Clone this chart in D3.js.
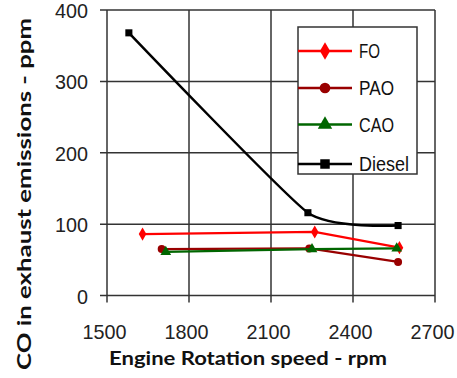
<!DOCTYPE html>
<meta charset="utf-8">
<body style="margin:0;background-color:white;">
<svg width="457" height="378"></svg>
<script src="https://d3js.org/d3.v7.min.js"></script>
<script>

// data
var xTicks = [1500, 1800, 2100, 2400, 2700];
var yTicks = [0, 100, 200, 300, 400];

var foRpm = [1630, 2260, 2570];
var foCO = [86, 89, 67];
var paoRpm = [1700, 2240, 2565];
var paoCO = [65, 66, 47];
var caoRpm = [1715, 2250, 2560];
var caoCO = [61, 65, 66];
var dieselRpm = [1580, 2235, 2565];
var dieselCO = [368, 116, 98];

var seriesNames = ["FO", "PAO", "CAO", "Diesel"];

var svg = d3.select("svg");

var x = d3.scaleLinear().domain([1500, 2700]).range([107, 435]);
var y = d3.scaleLinear().domain([0, 400]).range([295.5, 10]);

var gridColor = '#333';

// grid lines
var grid = svg.append('g');
grid.selectAll('line.v').data(xTicks).enter().append('line')
	.attr('x1', d => x(d)).attr('x2', d => x(d))
	.attr('y1', y(0) + 7).attr('y2', y(400))
	.attr('stroke', gridColor).attr('stroke-width', 1.5);
grid.selectAll('line.h').data(yTicks).enter().append('line')
	.attr('x1', x(1500) - 7).attr('x2', x(2700))
	.attr('y1', d => y(d)).attr('y2', d => y(d))
	.attr('stroke', gridColor).attr('stroke-width', 1.5);

// tick labels through the axes
var xAxis = svg.append('g')
	.attr('transform', 'translate(0,' + y(0) + ')')
	.call(d3.axisBottom(x).tickValues(xTicks).tickFormat(d3.format('d')).tickSize(0).tickPadding(43));
var yAxis = svg.append('g')
	.attr('transform', 'translate(' + x(1500) + ',0)')
	.call(d3.axisLeft(y).tickValues(yTicks).tickFormat(d3.format('d')).tickSize(0).tickPadding(19));
svg.selectAll('.domain').remove();
svg.selectAll('.tick text')
	.attr('font-family', 'Liberation Sans')
	.attr('font-size', 21)
	.attr('fill', '#222')
	.attr('textLength', function(d) { return String(d).length * 11; })
	.attr('lengthAdjust', 'spacingAndGlyphs');
xAxis.selectAll('.tick text').attr('dy', '0').attr('dx', -3);
yAxis.selectAll('.tick text').attr('dy', '0.36em');

// series
var lineGen = d3.line().x(d => x(d[0])).y(d => y(d[1]));
var smoothGen = d3.line().x(d => x(d[0])).y(d => y(d[1])).curve(d3.curveCardinal.tension(0.5));

var series = [
	{name: 'FO', rpm: foRpm, co: foCO, color: '#ff0000', marker: 'diamond'},
	{name: 'PAO', rpm: paoRpm, co: paoCO, color: '#990000', marker: 'circle'},
	{name: 'CAO', rpm: caoRpm, co: caoCO, color: '#006600', marker: 'triangle'},
	{name: 'Diesel', rpm: dieselRpm, co: dieselCO, color: '#000000', marker: 'square'}
];

function markerPath(type, s) {
	var sym = {diamond: d3.symbolDiamond, circle: d3.symbolCircle, triangle: d3.symbolTriangle, square: d3.symbolSquare}[type];
	return d3.symbol().type(sym).size(s)();
}

var plot = svg.append('g');
series.forEach(function(s) {
	var pts = s.rpm.map((r, i) => [r, s.co[i]]);
	plot.append('path')
		.attr('d', s.name == 'Diesel' ? smoothGen(pts) : lineGen(pts))
		.attr('fill', 'none')
		.attr('stroke', s.color)
		.attr('stroke-width', s.name == 'Diesel' ? 2.5 : 2.2);
	plot.selectAll(null).data(pts).enter().append('path')
		.attr('d', markerPath(s.marker, 50))
		.attr('transform', d => 'translate(' + x(d[0]) + ',' + y(d[1]) + ')')
		.attr('fill', s.color);
});

// legend
var legend = svg.append('g').attr('transform', 'translate(298,27)');
legend.append('rect')
	.attr('width', 119).attr('height', 147)
	.attr('fill', 'white').attr('stroke', gridColor).attr('stroke-width', 1.5);
var legendY = [24, 61, 97.5, 137];
series.forEach(function(s, i) {
	var row = legend.append('g').attr('transform', 'translate(0,' + legendY[i] + ')');
	row.append('line').attr('x1', 0).attr('x2', 54).attr('y1', 0).attr('y2', 0)
		.attr('stroke', s.color).attr('stroke-width', 2.5);
	row.append('path').attr('d', markerPath(s.marker, 90))
		.attr('transform', 'translate(27,0)').attr('fill', s.color);
	row.append('text')
		.attr('x', 61).attr('y', 0).attr('dy', '0.36em')
		.attr('font-family', 'Liberation Sans').attr('font-size', 20)
		.attr('fill', '#111')
		.attr('textLength', [21, 35, 35, 50][i])
		.attr('lengthAdjust', 'spacingAndGlyphs')
		.text(seriesNames[i]);
});

// axis titles
svg.append('text')
	.attr('x', 109).attr('y', 365)
	.attr('font-family', 'Lato').attr('font-weight', 'bold').attr('font-size', 19)
	.attr('fill', '#111')
	.attr('textLength', 278).attr('lengthAdjust', 'spacingAndGlyphs')
	.text('Engine Rotation speed - rpm');
svg.append('text')
	.attr('transform', 'translate(31,370) rotate(-90)')
	.attr('font-family', 'Lato').attr('font-weight', 'bold').attr('font-size', 19)
	.attr('fill', '#111')
	.attr('textLength', 352).attr('lengthAdjust', 'spacingAndGlyphs')
	.text('CO in exhaust emissions - ppm');

</script>
</body>
